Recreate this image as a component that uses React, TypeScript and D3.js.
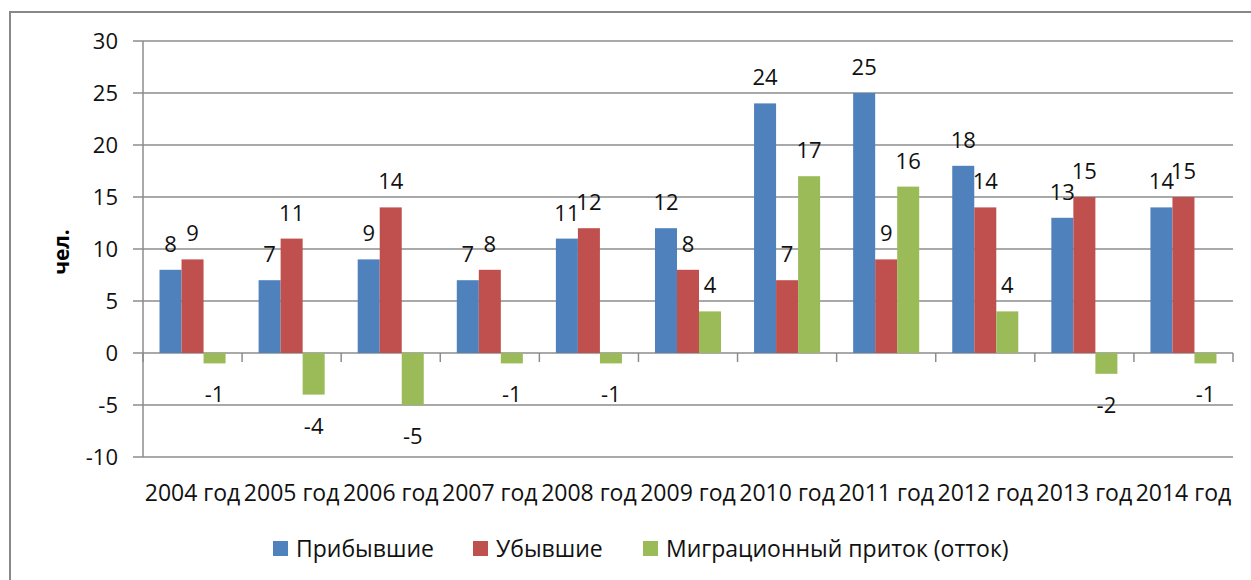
import React from 'react';
import * as d3 from 'd3';

// Migration data, persons per year
const years = [
  '2004 год', '2005 год', '2006 год', '2007 год', '2008 год', '2009 год',
  '2010 год', '2011 год', '2012 год', '2013 год', '2014 год',
];
const arrived = [8, 7, 9, 7, 11, 12, 24, 25, 18, 13, 14];
const departed = [9, 11, 14, 8, 12, 8, 7, 9, 14, 15, 15];
const netFlow = [-1, -4, -5, -1, -1, 4, 17, 16, 4, -2, -1];
const seriesNames = ['Прибывшие', 'Убывшие', 'Миграционный приток (отток)'];
const yTicks = [-10, -5, 0, 5, 10, 15, 20, 25, 30];

const colors = ['#4F81BD', '#C0504D', '#9BBB59'];
const font = '"Open Sans", sans-serif';
const gridColor = '#8c8c8c';

const W = 1251;
const H = 580;
const plot = { left: 143, right: 1233, top: 41, bottom: 457 };

const App = () => {
  const series = [arrived, departed, netFlow];

  const x0 = d3.scaleBand().domain(years).range([plot.left, plot.right]).padding(0);
  const x1 = d3
    .scaleBand()
    .domain(seriesNames)
    .range([0, x0.bandwidth()])
    .paddingInner(0)
    .paddingOuter(0.75);
  const y = d3.scaleLinear().domain([-10, 30]).range([plot.bottom, plot.top]);

  // category boundaries for tick marks on the zero line
  const boundaries = years.map((d) => x0(d)).concat([plot.right]);

  // legend layout (hand placed, like Excel)
  const legendX = [273, 473, 643];

  return (
    <svg
      width={W}
      height={H}
      style={{ position: 'absolute', left: 0, top: 0, background: '#fff' }}
      fontFamily={font}
    >
      {/* chart border */}
      <rect x={10} y={12} width={W + 10} height={H + 10} fill="#fff" stroke="#888" strokeWidth={2} />

      {/* gridlines and y ticks */}
      {yTicks.map((t) => (
        <g key={t}>
          <line x1={plot.left - 10} x2={plot.right} y1={y(t)} y2={y(t)} stroke={gridColor} strokeWidth={1.5} />
          <text x={118} y={y(t) + 8} textAnchor="end" fontSize={22} fill="#111">
            {t}
          </text>
        </g>
      ))}

      {/* y axis line */}
      <line x1={plot.left} x2={plot.left} y1={plot.top} y2={plot.bottom} stroke={gridColor} strokeWidth={1.5} />

      {/* ticks on category axis (at zero) */}
      {boundaries.map((bx, i) => (
        <line key={i} x1={bx} x2={bx} y1={y(0)} y2={y(0) + 9} stroke={gridColor} strokeWidth={1.5} />
      ))}

      {/* y title */}
      <text
        transform={`translate(69, 252) rotate(-90)`}
        textAnchor="middle"
        fontSize={21}
        fontWeight="bold"
        fill="#000"
      >
        чел.
      </text>

      {/* bars */}
      {series.map((vals, si) =>
        vals.map((v, i) => {
          const bx = x0(years[i]) + x1(seriesNames[si]);
          const top = y(Math.max(v, 0));
          const h = Math.abs(y(v) - y(0));
          return <rect key={`${si}-${i}`} x={bx} y={top} width={x1.bandwidth()} height={h} fill={colors[si]} />;
        })
      )}

      {/* data labels */}
      {series.map((vals, si) =>
        vals.map((v, i) => {
          const cx = x0(years[i]) + x1(seriesNames[si]) + x1.bandwidth() / 2;
          const ly = v >= 0 ? y(v) - 18 : y(v) + 39;
          return (
            <text key={`l${si}-${i}`} x={cx} y={ly} textAnchor="middle" fontSize={22} fill="#111">
              {v}
            </text>
          );
        })
      )}

      {/* x labels */}
      {years.map((d) => (
        <text key={d} x={x0(d) + x0.bandwidth() / 2} y={501} textAnchor="middle" fontSize={23} fill="#111">
          {d}
        </text>
      ))}

      {/* legend */}
      {seriesNames.map((name, i) => (
        <g key={name}>
          <rect x={legendX[i]} y={541} width={15} height={15} fill={colors[i]} />
          <text x={legendX[i] + 23} y={557} fontSize={23} fill="#111">
            {name}
          </text>
        </g>
      ))}
    </svg>
  );
};

export default App;
